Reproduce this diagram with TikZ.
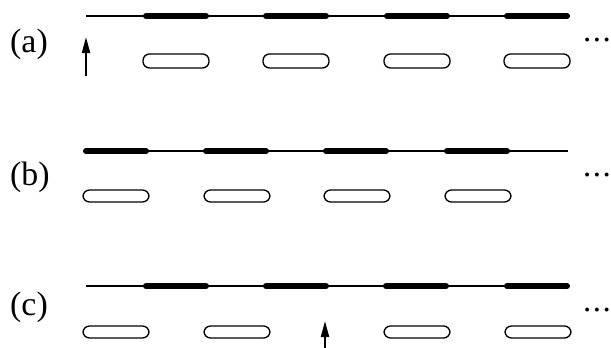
\documentclass[tikz,border=0pt]{standalone}
\usepackage{fontspec}
\setmainfont{Liberation Serif}
\usetikzlibrary{arrows.meta}
\newcommand{\spaceddots}{.\kern1.5bp.\kern1.5bp.}
\begin{document}
\begin{tikzpicture}[x=1bp,y=-1bp,
  thinline/.style={line width=1.3bp},
  thickseg/.style={line width=6bp, line cap=round},
  pill/.style={line width=1.3bp, rounded corners=6.5bp},
  uparrow/.style={line width=2bp, -{Triangle[length=16bp,width=8bp]}},
  rowlabel/.style={anchor=base west, inner sep=0pt, font=\fontsize{34}{40}\selectfont},
  dotslabel/.style={anchor=base west, inner sep=0pt, font=\fontsize{33}{40}\selectfont}]
\useasboundingbox (0,0) rectangle (611,347);
% row (a)
\node[rowlabel] (la) at (10,52) {(a)};
\draw[thinline] (86,16) -- (570,16);
\foreach \x in {143,263,384,504} {
  \draw[thickseg] (\x+3,16) -- (\x+63,16);
  \draw[pill] (\x,54) rectangle (\x+66,68);
}
\draw[uparrow] (86,76) -- (86,37);
\node[dotslabel] (da) at (583,41.5) {\spaceddots};
% row (b)
\node[rowlabel] (lb) at (10,185.5) {(b)};
\draw[thinline] (83,151) -- (568,151);
\foreach \x in {83,203,323,444} {
  \draw[thickseg] (\x+3,151) -- (\x+63,151);
}
\foreach \x in {83,204,324,445} {
  \draw[pill] (\x,190) rectangle (\x+66,202);
}
\node[dotslabel] (db) at (583,176.5) {\spaceddots};
% row (c)
\node[rowlabel] (lc) at (10,315.5) {(c)};
\draw[thinline] (86,286) -- (570,286);
\foreach \x in {143,263,383,504} {
  \draw[thickseg] (\x+3,286) -- (\x+63,286);
}
\foreach \x in {83,204,384,505} {
  \draw[pill] (\x,326) rectangle (\x+66,338);
}
\draw[uparrow] (325,350) -- (325,321);
\node[dotslabel] (dc) at (583,311.5) {\spaceddots};
\end{tikzpicture}
\end{document}
